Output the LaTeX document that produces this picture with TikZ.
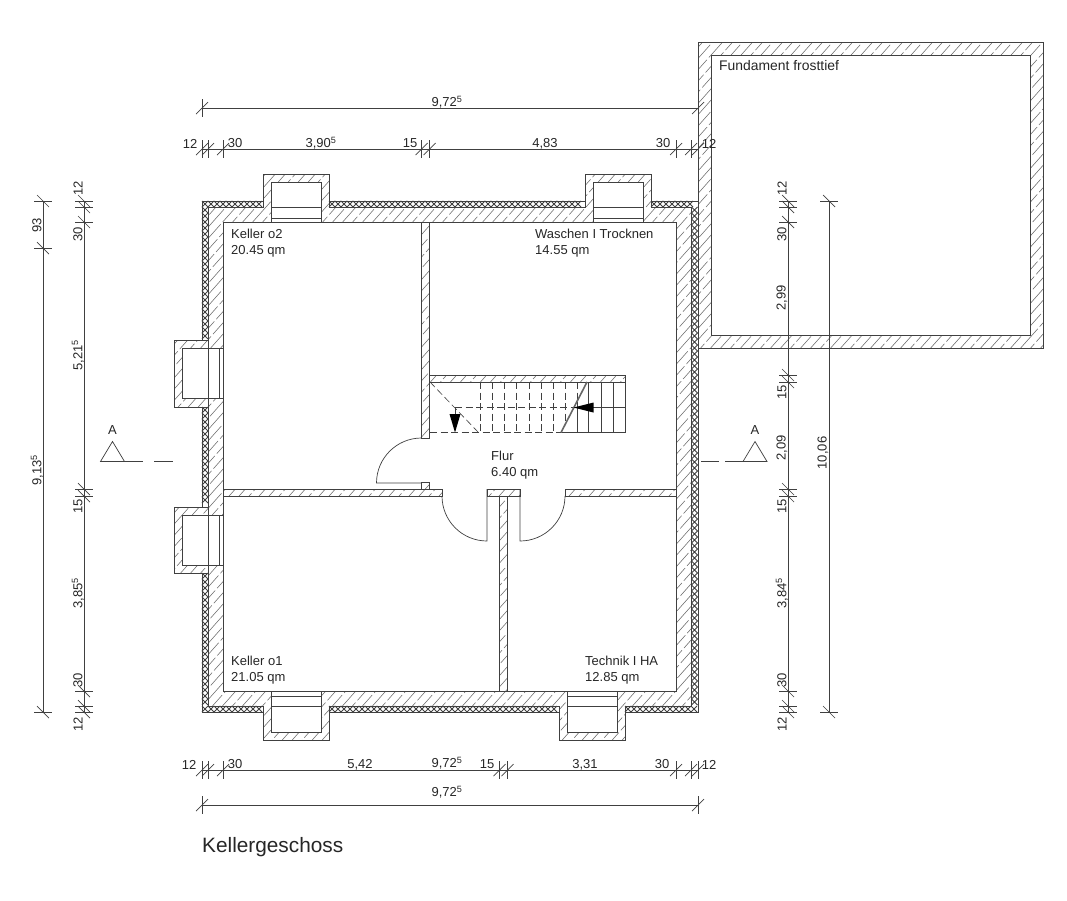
\documentclass[tikz,border=0pt]{standalone}
\usepackage{fontspec}
\usepackage{xcolor}
\setmainfont{Liberation Sans}

\definecolor{planline}{gray}{0.25}
\definecolor{hatchline}{gray}{0.4}

\tikzset{
  wall/.style={line width=0.8pt,draw=planline},
  thinline/.style={line width=0.7pt,draw=planline},
  hatching/.style={line width=0.55pt,draw=hatchline},
  stripframe/.style={line width=0.8pt,draw=planline,fill=white},
  bubble/.style={line width=0.75pt,draw=planline},
  stairdash/.style={line width=0.6pt,draw=planline,dash pattern=on 7pt off 3.5pt},
  measure/.style={font=\fontsize{13}{15}\selectfont,text=black!85,inner sep=0pt},
  roomname/.style={font=\fontsize{13}{16}\selectfont,text=black!85,inner sep=0pt,align=left,anchor=north west},
}

% tick on a horizontal and on a vertical measure line
\newcommand{\tickh}[2]{\draw [thinline] (#1,#2-9) -- (#1,#2+9);\draw [thinline] (#1-6,#2+6) -- (#1+6,#2-6);}
\newcommand{\tickv}[2]{\draw [thinline] (#1-9,#2) -- (#1+9,#2);\draw [thinline] (#1-6,#2-6) -- (#1+6,#2+6);}
% one cell of the insulation strip
\newcommand{\insulcell}[2]{\draw [bubble] (#1-3,#2-3) -- (#1+3,#2+3) (#1-3,#2+3) -- (#1+3,#2-3);}

% outline of the house, with the big hole and the inner walls
\newcommand{\housepath}{
  (202,201) -- (263,201) -- (263,174) -- (329,174) -- (329,201) -- (585,201) -- (585,174) -- (651,174) -- (651,201) -- (698,201)
  -- (698,712) -- (625,712) -- (625,740) -- (559,740) -- (559,712) -- (329,712) -- (329,740) -- (263,740) -- (263,712) -- (202,712)
  -- (202,573) -- (174,573) -- (174,507) -- (202,507) -- (202,407) -- (174,407) -- (174,340) -- (202,340) -- cycle
  (223,222) -- (271,222) -- (271,182) -- (321,182) -- (321,222) -- (593,222) -- (593,182) -- (643,182) -- (643,222) -- (676,222)
  -- (676,691) -- (617,691) -- (617,732) -- (567,732) -- (567,691) -- (321,691) -- (321,732) -- (271,732) -- (271,691) -- (223,691)
  -- (223,565) -- (182,565) -- (182,515) -- (223,515) -- (223,398) -- (182,398) -- (182,348) -- (223,348) -- cycle
  (421.5,222) rectangle (429.5,438)
  (429.5,375) rectangle (625,382)
  (223,489) rectangle (442,496)
  (421.5,482.5) rectangle (429.5,489)
  (487,489) rectangle (520,496)
  (499.5,496) rectangle (507.5,691)
  (565,489) rectangle (676,496)
}
\newcommand{\annexpath}{(698,42) rectangle (1043,348) (711,55) rectangle (1030,335)}

\begin{document}
\begin{tikzpicture}[x=1pt,y=-1pt]
  \useasboundingbox (0,0) rectangle (1067,900);

  % Hatching the walls
  \begin{scope}[even odd rule]
    \clip \housepath \annexpath;
    \foreach \c in {170,180,...,1850} {
      \draw [hatching,dash pattern=on 27pt off 3pt,dash phase=\c pt] (\c,0) -- (\c-800,900);
    }
  \end{scope}

  % Drawing the outlines
  \draw [wall,even odd rule] \annexpath;
  \draw [wall,even odd rule] \housepath;

  % Drawing the insulation strips
  \draw [stripframe] (202,201) -- (263,201) -- (263,207) -- (208,207) -- (208,340) -- (202,340) -- cycle;
  \draw [stripframe] (329,201) rectangle (585,207);
  \draw [stripframe] (651,201) -- (698,201) -- (698,712) -- (625,712) -- (625,706) -- (691,706) -- (691,207) -- (651,207) -- cycle;
  \draw [stripframe] (202,407) rectangle (208,507);
  \draw [stripframe] (202,573) -- (208,573) -- (208,706) -- (263,706) -- (263,712) -- (202,712) -- cycle;
  \draw [stripframe] (329,706) rectangle (559,712);

  % Marking the insulation cells
  \foreach \x in {205,211,...,260} {\insulcell{\x}{204}}
  \foreach \x in {332,338,...,582} {\insulcell{\x}{204}}
  \foreach \x in {654,660,...,695} {\insulcell{\x}{204}}
  \foreach \x in {205,211,...,260} {\insulcell{\x}{709}}
  \foreach \x in {332,338,...,556} {\insulcell{\x}{709}}
  \foreach \x in {628,634,...,695} {\insulcell{\x}{709}}
  \foreach \y in {210,216,...,337} {\insulcell{205}{\y}}
  \foreach \y in {410,416,...,504} {\insulcell{205}{\y}}
  \foreach \y in {576,582,...,703} {\insulcell{205}{\y}}
  \foreach \y in {210,216,...,703} {\insulcell{694.5}{\y}}

  % Drawing the window lines
  \draw [thinline] (271,207) -- (321,207);%
  \draw [thinline] (271,218) -- (321,218);%
  \draw [thinline] (271,222) -- (321,222);%
  \draw [thinline] (593,207) -- (643,207);%
  \draw [thinline] (593,218) -- (643,218);%
  \draw [thinline] (593,222) -- (643,222);%
  \draw [thinline] (271,691) -- (321,691);%
  \draw [thinline] (271,696) -- (321,696);%
  \draw [thinline] (271,706) -- (321,706);%
  \draw [thinline] (567,691) -- (617,691);%
  \draw [thinline] (567,696) -- (617,696);%
  \draw [thinline] (567,706) -- (617,706);%
  \draw [thinline] (208,340) -- (208,407);%
  \draw [thinline] (219,348) -- (219,398);%
  \draw [thinline] (223,348) -- (223,398);%
  \draw [thinline] (208,507) -- (208,573);%
  \draw [thinline] (219,515) -- (219,565);%
  \draw [thinline] (223,515) -- (223,565);%

  % Drawing the doors
  \draw [thinline] (421.5,438) arc [start angle=90,end angle=180,radius=45pt] -- (421.5,483);%
  \draw [thinline] (442,496) arc [start angle=180,end angle=270,radius=45pt] -- (487,489);%
  \draw [thinline] (565,496) arc [start angle=0,end angle=-90,radius=45pt] -- (520,489);%

  % Drawing the stairs, hidden part
  \draw [stairdash] (430,432.5) -- (561,432.5);%
  \draw [stairdash] (455,407.5) -- (573,407.5);%
  \draw [stairdash] (430,382) -- (478,432);%
  \foreach \x in {480,492.2,504.4,516.6,528.8,541,553.2} {
    \draw [stairdash] (\x,382) -- (\x,432.5);
  }
  \draw [stairdash] (565.4,382) -- (565.4,424);%
  \draw [stairdash] (577.3,382) -- (577.3,401);%
  \draw [stairdash] (455,407.5) -- (455,414);%

  % Drawing the stairs, visible part
  \draw [thinline] (430,382) -- (625,382);%
  \draw [thinline] (561,432.5) -- (625,432.5) -- (625,382);%
  \draw [thinline] (573,407.5) -- (625,407.5);%
  \draw [thinline] (577,402) -- (577,432.5);%
  \draw [thinline] (588.5,382) -- (588.5,432.5);%
  \draw [thinline] (601,382) -- (601,432.5);%
  \draw [thinline] (613,382) -- (613,432.5);%
  \draw [line width=1.6pt,draw=hatchline] (561,432.5) -- (587,382);%

  % Marking the walking directions
  \fill [black] (573.5,407.5) -- (593.5,402.5) -- (593.5,412.5) -- cycle;%
  \fill [black] (455,432.5) -- (449.5,414) -- (460.5,414) -- cycle;%

  % Drawing the sections A
  \draw [thinline] (100.5,461.5) -- (112.5,441.5) -- (124.5,461.5) -- cycle;%
  \draw [thinline] (124.5,461.5) -- (143,461.5);%
  \draw [thinline] (154,461.5) -- (172.5,461.5);%
  \node [measure] (secLeft) at (112.5,430) {A};%
  \draw [thinline] (743,461.5) -- (755,441.5) -- (767,461.5) -- cycle;%
  \draw [thinline] (743,461.5) -- (725,461.5);%
  \draw [thinline] (719,461.5) -- (701,461.5);%
  \node [measure] (secRight) at (755,430) {A};%

  % Drawing measure top, overall
  \draw [thinline] (202,108) -- (698,108);%
  \tickh{202}{108}\tickh{698}{108}
  \node [measure] (topAll) at (447,102) {9,72\textsuperscript{5}};%

  % Drawing measure top, chain
  \draw [thinline] (202,149) -- (698,149);%
  \tickh{202}{149}\tickh{208}{149}\tickh{223}{149}\tickh{421.5}{149}\tickh{429.5}{149}\tickh{676}{149}\tickh{691}{149}\tickh{698}{149}
  \node [measure] (topA) at (190,143.5) {12};%
  \node [measure] (topB) at (235,143.5) {30};%
  \node [measure] (topC) at (321,143.5) {3,90\textsuperscript{5}};%
  \node [measure] (topD) at (410,143.5) {15};%
  \node [measure] (topE) at (545,143.5) {4,83};%
  \node [measure] (topF) at (663,143.5) {30};%
  \node [measure] (topG) at (709,143.5) {12};%

  % Drawing measure bottom, chain
  \draw [thinline] (202,770) -- (698,770);%
  \tickh{202}{770}\tickh{208}{770}\tickh{223}{770}\tickh{499.5}{770}\tickh{507.5}{770}\tickh{676}{770}\tickh{691}{770}\tickh{698}{770}
  \node [measure] (botA) at (189,764.5) {12};%
  \node [measure] (botB) at (235,764.5) {30};%
  \node [measure] (botC) at (360,764.5) {5,42};%
  \node [measure] (botD) at (447,763.5) {9,72\textsuperscript{5}};%
  \node [measure] (botE) at (487,764.5) {15};%
  \node [measure] (botF) at (585,764.5) {3,31};%
  \node [measure] (botG) at (662,764.5) {30};%
  \node [measure] (botH) at (709,764.5) {12};%

  % Drawing measure bottom, overall
  \draw [thinline] (202,805) -- (698,805);%
  \tickh{202}{805}\tickh{698}{805}
  \node [measure] (botAll) at (447,792) {9,72\textsuperscript{5}};%

  % Drawing measure left, outer
  \draw [thinline] (43,201) -- (43,712);%
  \tickv{43}{201}\tickv{43}{248}\tickv{43}{712}
  \node [measure,rotate=90] (leftOutA) at (37,225) {93};%
  \node [measure,rotate=90] (leftOutB) at (37,470) {9,13\textsuperscript{5}};%

  % Drawing measure left, chain
  \draw [thinline] (84,201) -- (84,712);%
  \tickv{84}{201}\tickv{84}{207}\tickv{84}{222}\tickv{84}{489}\tickv{84}{496}\tickv{84}{691}\tickv{84}{706}\tickv{84}{712}
  \node [measure,rotate=90] (leftA) at (78,188) {12};%
  \node [measure,rotate=90] (leftB) at (78,234) {30};%
  \node [measure,rotate=90] (leftC) at (78,355) {5,21\textsuperscript{5}};%
  \node [measure,rotate=90] (leftD) at (78,506) {15};%
  \node [measure,rotate=90] (leftE) at (78,593) {3,85\textsuperscript{5}};%
  \node [measure,rotate=90] (leftF) at (78,680) {30};%
  \node [measure,rotate=90] (leftG) at (78,724) {12};%

  % Drawing measure right, chain
  \draw [thinline] (788,201) -- (788,712);%
  \tickv{788}{201}\tickv{788}{207}\tickv{788}{222}\tickv{788}{375}\tickv{788}{382}\tickv{788}{489}\tickv{788}{496}\tickv{788}{691}\tickv{788}{706}\tickv{788}{712}
  \node [measure,rotate=90] (rightA) at (782,188) {12};%
  \node [measure,rotate=90] (rightB) at (782,234) {30};%
  \node [measure,rotate=90] (rightC) at (782,298) {2,99};%
  \node [measure,rotate=90] (rightD) at (782,392) {15};%
  \node [measure,rotate=90] (rightE) at (782,448) {2,09};%
  \node [measure,rotate=90] (rightF) at (782,506) {15};%
  \node [measure,rotate=90] (rightG) at (782,593) {3,84\textsuperscript{5}};%
  \node [measure,rotate=90] (rightH) at (782,680) {30};%
  \node [measure,rotate=90] (rightI) at (782,724) {12};%

  % Drawing measure right, outer
  \draw [thinline] (829,201) -- (829,712);%
  \tickv{829}{201}\tickv{829}{712}
  \node [measure,rotate=90] (rightOut) at (823,453) {10,06};%

  % Marking the rooms
  \node [roomname] (roomKellerTwo) at (231,229) {Keller o2\\20.45 qm};%
  \node [roomname] (roomWaschen) at (535,229) {Waschen I Trocknen\\14.55 qm};%
  \node [roomname] (roomFlur) at (491,451) {Flur\\6.40 qm};%
  \node [roomname] (roomKellerOne) at (231,656) {Keller o1\\21.05 qm};%
  \node [roomname] (roomTechnik) at (585,656) {Technik I HA\\12.85 qm};%
  \node [roomname,font=\fontsize{13.9}{16}\selectfont] (roomFundament) at (719,60) {Fundament frosttief};%
  \node [roomname,font=\fontsize{20.8}{24}\selectfont] (planTitle) at (202,837) {Kellergeschoss};%
\end{tikzpicture}
\end{document}
